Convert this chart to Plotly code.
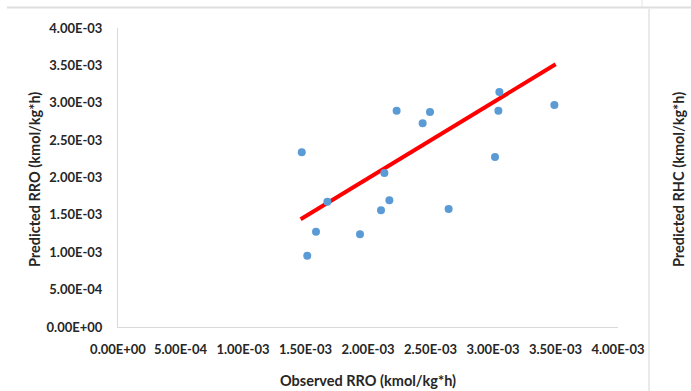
import plotly.graph_objects as go

# Observed vs predicted RRO values (kmol/kg*h)
observed_rro = [1.470e-3, 1.514e-3, 1.584e-3, 1.675e-3, 1.936e-3, 2.104e-3,
                2.131e-3, 2.171e-3, 2.229e-3, 2.437e-3, 2.496e-3, 2.645e-3,
                3.016e-3, 3.043e-3, 3.051e-3, 3.491e-3]
predicted_rro = [2.337e-3, 0.954e-3, 1.275e-3, 1.677e-3, 1.240e-3, 1.561e-3,
                 2.060e-3, 1.695e-3, 2.894e-3, 2.725e-3, 2.876e-3, 1.579e-3,
                 2.274e-3, 2.894e-3, 3.144e-3, 2.970e-3]

# Trend line end points
trend_x = [1.461e-3, 3.501e-3]
trend_y = [1.441e-3, 3.514e-3]

# Axis ticks
tick_vals = [0, 5e-4, 1e-3, 1.5e-3, 2e-3, 2.5e-3, 3e-3, 3.5e-3, 4e-3]
tick_text = ["0.00E+00", "5.00E-04", "1.00E-03", "1.50E-03", "2.00E-03",
             "2.50E-03", "3.00E-03", "3.50E-03", "4.00E-03"]

W, H = 691, 391
FONT = "Lato"
TXT = "#262626"
GRID = "#D9D9D9"


def px(x):
    return x / W


def py(y):
    return 1 - y / H


fig = go.Figure()
fig.add_trace(go.Scatter(x=trend_x, y=trend_y, mode="lines",
                         line=dict(color="#FF0000", width=4),
                         showlegend=False, hoverinfo="skip"))
fig.add_trace(go.Scatter(x=observed_rro, y=predicted_rro, mode="markers",
                         marker=dict(color="#5B9BD5", size=8),
                         showlegend=False))

axis_common = dict(
    range=[0, 4e-3], tickvals=tick_vals, ticktext=tick_text,
    showgrid=False, zeroline=False, showline=True, linecolor=GRID,
    linewidth=1, ticks="", fixedrange=True, automargin=False,
    tickfont=dict(family=FONT, size=13, color=TXT, weight="bold"),
)

fig.update_layout(
    width=W, height=H,
    margin=dict(l=0, r=0, t=0, b=0, autoexpand=False),
    paper_bgcolor="white", plot_bgcolor="white",
    xaxis=dict(domain=[px(118), px(618)], anchor="y",
               ticklabelstandoff=10, **axis_common),
    yaxis=dict(domain=[py(327), py(28)], anchor="x",
               ticklabelstandoff=12, **axis_common),
    annotations=[
        dict(text="Observed RRO (kmol/kg*h)", x=px(368), y=py(380),
             xref="paper", yref="paper", showarrow=False,
             xanchor="center", yanchor="middle",
             font=dict(family=FONT, size=14.5, color=TXT, weight="bold")),
        dict(text="Predicted RRO (kmol/kg*h)", x=px(35), y=py(180),
             xref="paper", yref="paper", showarrow=False, textangle=-90,
             xanchor="center", yanchor="middle",
             font=dict(family=FONT, size=14.5, color=TXT, weight="bold")),
        dict(text="Predicted RHC (kmol/kg*h)", x=px(679), y=py(180),
             xref="paper", yref="paper", showarrow=False, textangle=-90,
             xanchor="center", yanchor="middle",
             font=dict(family=FONT, size=14.5, color=TXT, weight="bold")),
    ],
    shapes=[
        # chart frame edges of the neighbouring panels
        dict(type="line", xref="paper", yref="paper",
             x0=px(7), x1=1, y0=py(7.5), y1=py(7.5),
             line=dict(color="#DEDEDE", width=2)),
        dict(type="line", xref="paper", yref="paper",
             x0=px(642), x1=px(642), y0=1, y1=py(7),
             line=dict(color="#E3E3E3", width=1)),
        dict(type="line", xref="paper", yref="paper",
             x0=px(649), x1=px(649), y0=py(9), y1=0,
             line=dict(color="#E3E3E3", width=1.5)),
    ],
)

fig.write_html("out.html")
